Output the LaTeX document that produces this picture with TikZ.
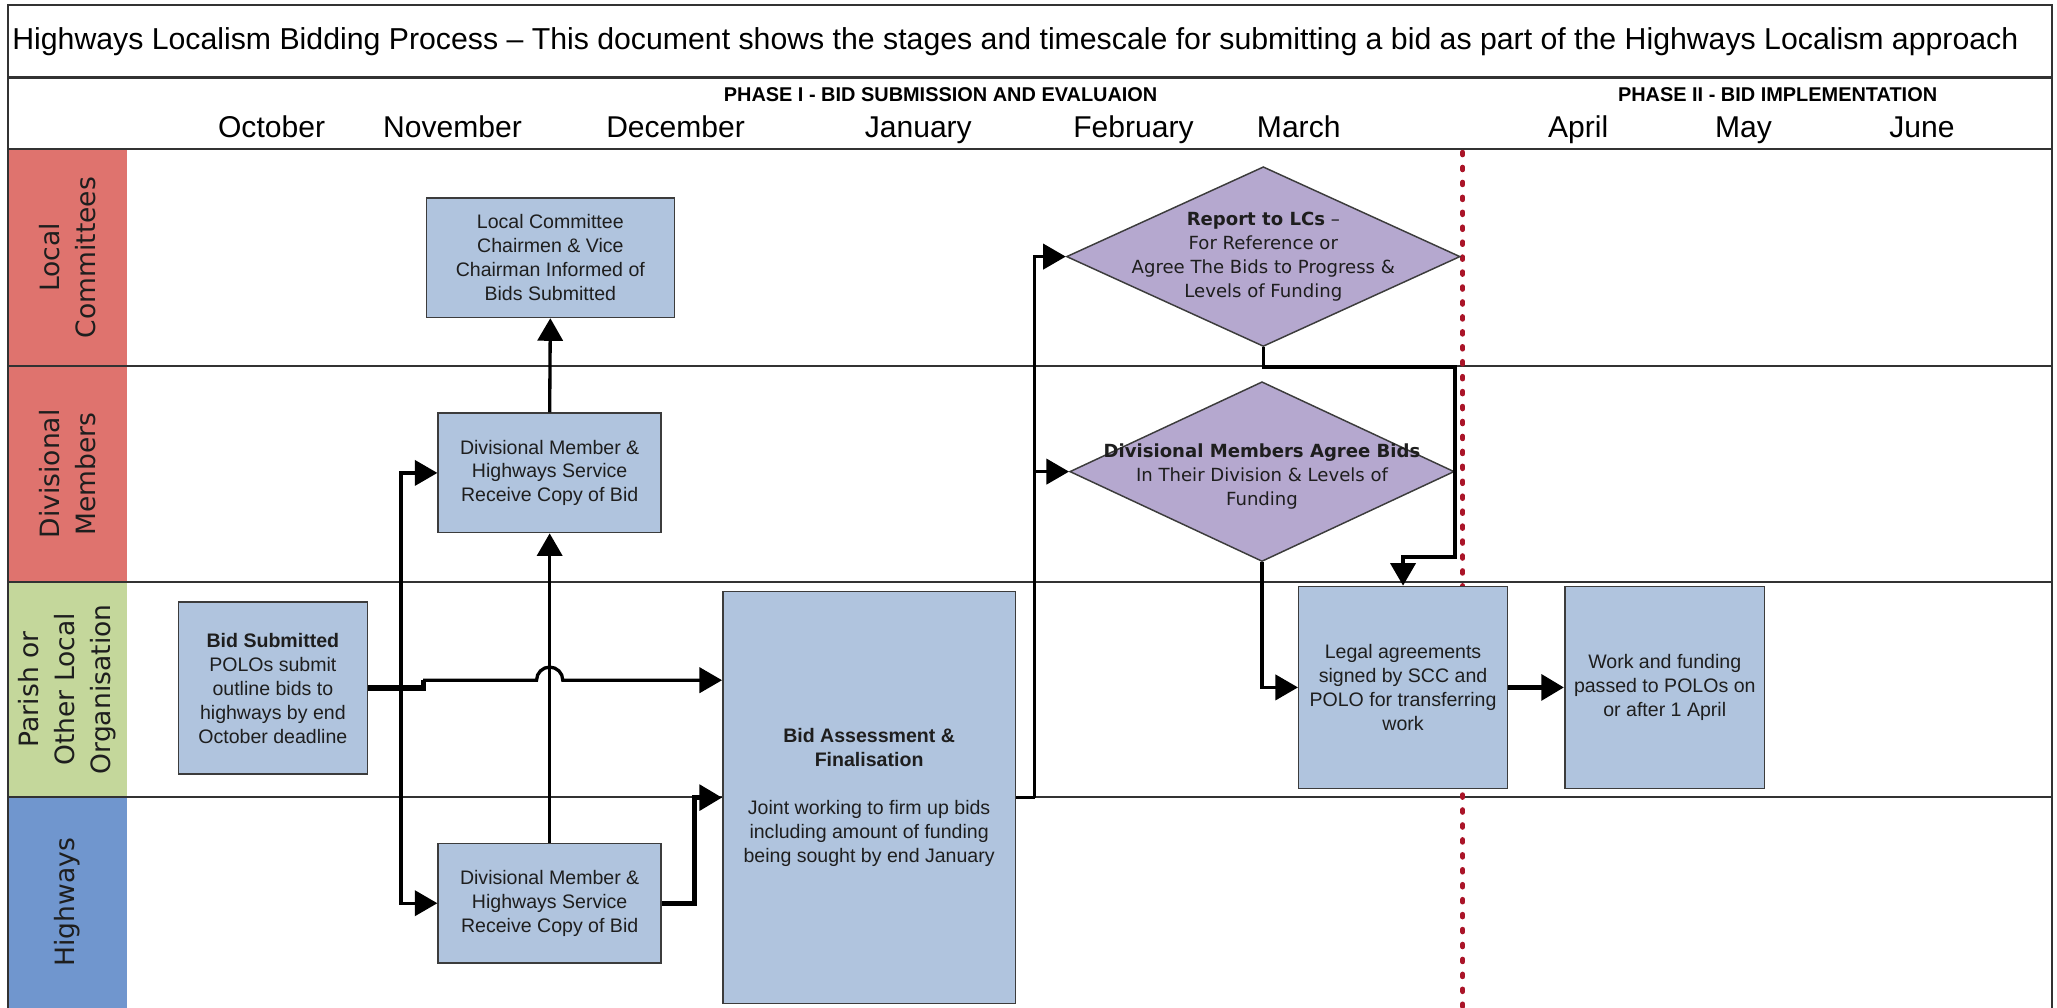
\documentclass[tikz,border=0pt]{standalone}
\usepackage{fontspec}
\setmainfont{Liberation Sans}
\newfontfamily\verdana{DejaVu Sans}
\usetikzlibrary{shapes.geometric,arrows.meta,calc}

\definecolor{lanered}{RGB}{223,115,110}
\definecolor{lanegreen}{RGB}{196,215,155}
\definecolor{laneblue}{RGB}{112,150,206}
\definecolor{boxfill}{RGB}{176,196,222}
\definecolor{diamondfill}{RGB}{181,168,207}
\definecolor{boxline}{RGB}{60,60,60}
\definecolor{gridline}{RGB}{50,50,50}
\definecolor{textdark}{RGB}{30,30,30}
\definecolor{cutred}{RGB}{170,20,40}

\tikzset{
  lane/.style={rotate=90, align=center, inner sep=0pt, minimum height=2.275cm,
    text=textdark, font=\verdana\fontsize{14.4}{19.5}\selectfont},
  box/.style={draw=boxline, fill=boxfill, line width=0.8pt, align=center, inner sep=2pt,
    text=textdark, font=\fontsize{10.6}{13}\selectfont},
  decision/.style={diamond, draw=boxline, fill=diamondfill, line width=0.8pt, inner sep=0pt},
  dtext/.style={align=center, text=textdark, font=\verdana\fontsize{9.8}{13.1}\selectfont},
  month/.style={anchor=base, font=\fontsize{16.3}{18}\selectfont},
  phase/.style={anchor=base, font=\bfseries\fontsize{10.8}{12}\selectfont},
  gridrule/.style={draw=gridline, line width=1.2pt},
  flow/.style={line width=1.8pt, -{Triangle[length=4.3mm,width=4.8mm]}},
  thickflow/.style={flow, line width=2.8pt},
  cutover/.style={draw=cutred, line width=2.6pt, line cap=round, dash pattern=on 1.5pt off 6.6pt}
}

\begin{document}
\begin{tikzpicture}[x=0.025cm, y=0.025cm]
\useasboundingbox (0,0) rectangle (1568,-768);

% title and timescale
\node[font=\fontsize{16.4}{18}\selectfont] (title) at (774,-32) {Highways Localism Bidding Process – This document shows the stages and timescale for submitting a bid as part of the Highways Localism approach};
\node[phase] (phase1) at (717,-77.5) {PHASE I - BID SUBMISSION AND EVALUAION};
\node[phase] (phase2) at (1355,-77.5) {PHASE II - BID IMPLEMENTATION};
\node[month] (oct) at (207,-104.5) {October};
\node[month] (nov) at (345,-104.5) {November};
\node[month] (dec) at (515,-104.5) {December};
\node[month] (jan) at (700,-104.5) {January};
\node[month] (feb) at (864,-104.5) {February};
\node[month] (mar) at (990,-104.5) {March};
\node[month] (apr) at (1203,-104.5) {April};
\node[month] (may) at (1329,-104.5) {May};
\node[month] (jun) at (1465,-104.5) {June};

% swim lanes
\node[lane, fill=lanered, minimum width=4.1375cm] (lanelc) at (51.5,-196.25) {Local\\Committees};
\node[lane, fill=lanered, minimum width=4.1125cm] (lanedm) at (51.5,-361.25) {Divisional\\Members};
\node[lane, fill=lanegreen, minimum width=4.1cm] (lanepo) at (51.5,-525.5) {Parish or\\Other Local\\Organisation};
\node[lane, fill=laneblue, minimum width=4.0125cm] (lanehw) at (51.5,-687.75) {Highways};

\draw[gridrule] (6,-768) -- (6,-4) -- (1564,-4) -- (1564,-768);
\draw[gridrule] (6,-59) -- (1564,-59);
\draw[gridrule] (6,-113.5) -- (1564,-113.5);
\draw[gridrule] (6,-279) -- (1564,-279);
\draw[gridrule] (6,-443.5) -- (1564,-443.5);
\draw[gridrule] (6,-607.5) -- (1564,-607.5);

% phase boundary
\draw[cutover] (1115,-116) -- (1115,-768);

% stages
\node[box, minimum width=4.725cm, minimum height=2.275cm] (lcinfo) at (419.5,-196.5) {Local Committee\\Chairmen \& Vice\\Chairman Informed of\\Bids Submitted};
\node[box, minimum width=4.25cm, minimum height=2.275cm] (dmrecv) at (419,-360.5) {Divisional Member \&\\Highways Service\\Receive Copy of Bid};
\node[box, minimum width=3.6cm, minimum height=3.275cm] (bidsub) at (208,-524.5) {\textbf{Bid Submitted}\\POLOs submit\\outline bids to\\highways by end\\October deadline};
\node[box, minimum width=4.25cm, minimum height=2.275cm] (hwrecv) at (419,-688.5) {Divisional Member \&\\Highways Service\\Receive Copy of Bid};
\node[box, minimum width=5.575cm, minimum height=7.85cm] (assess) at (662.5,-608) {\textbf{Bid Assessment \&}\\\textbf{Finalisation}\\[13pt]Joint working to firm up bids\\including amount of funding\\being sought by end January};
\node[decision, minimum width=7.5cm, minimum height=3.425cm,
  label={[dtext]center:\textbf{Report to LCs} –\\For Reference or\\Agree The Bids to Progress \&\\Levels of Funding}] (report) at (963,-195.6) {};
\node[decision, minimum width=7.325cm, minimum height=3.425cm,
  label={[dtext, yshift=-0.09cm]center:\textbf{Divisional Members Agree Bids}\\In Their Division \& Levels of\\Funding}] (agree) at (962,-359.5) {};
\node[box, minimum width=3.975cm, minimum height=3.85cm] (legal) at (1069.5,-524) {Legal agreements\\signed by SCC and\\POLO for transferring\\work};
\node[box, minimum width=3.81cm, minimum height=3.85cm] (work) at (1269,-524) {Work and funding\\passed to POLOs on\\or after 1 April};

% connectors
\coordinate (split) at ($(bidsub.east)+(25,0)$);
\coordinate (jog) at ($(bidsub.east)+(42,6)$);
\draw[line width=2.8pt] (bidsub.east) -- ($(bidsub.east)+(42,0)$) -- (jog);
\draw[flow] (jog) -- ($(jog -| hwrecv.north)+(-10,0)$) arc[start angle=180, end angle=0, radius=10] -- (jog -| assess.west);
\draw[flow] (split) |- (dmrecv.west);
\draw[flow] (split) |- (hwrecv.west);
\draw[flow] (hwrecv.north) -- (dmrecv.south);
\draw[flow] (dmrecv.north) -- (lcinfo.south);
\draw[thickflow] (hwrecv.east) -- ++(25,0) |- (assess.west);
\coordinate (fork) at ($(assess.east)+(14,0)$);
\draw[line width=1.8pt] (assess.east) -- (fork);
\draw[flow] (fork) |- (report.west);
\draw[flow] (fork) |- (agree.west);
\draw[flow] (report.south) -- ++(0,-15) -- ++(146,0) -- ++(0,-145) -| (legal.north);
\draw[flow] (agree.south) |- (legal.west);
\draw[thickflow] (legal.east) -- (work.west);
\end{tikzpicture}
\end{document}
